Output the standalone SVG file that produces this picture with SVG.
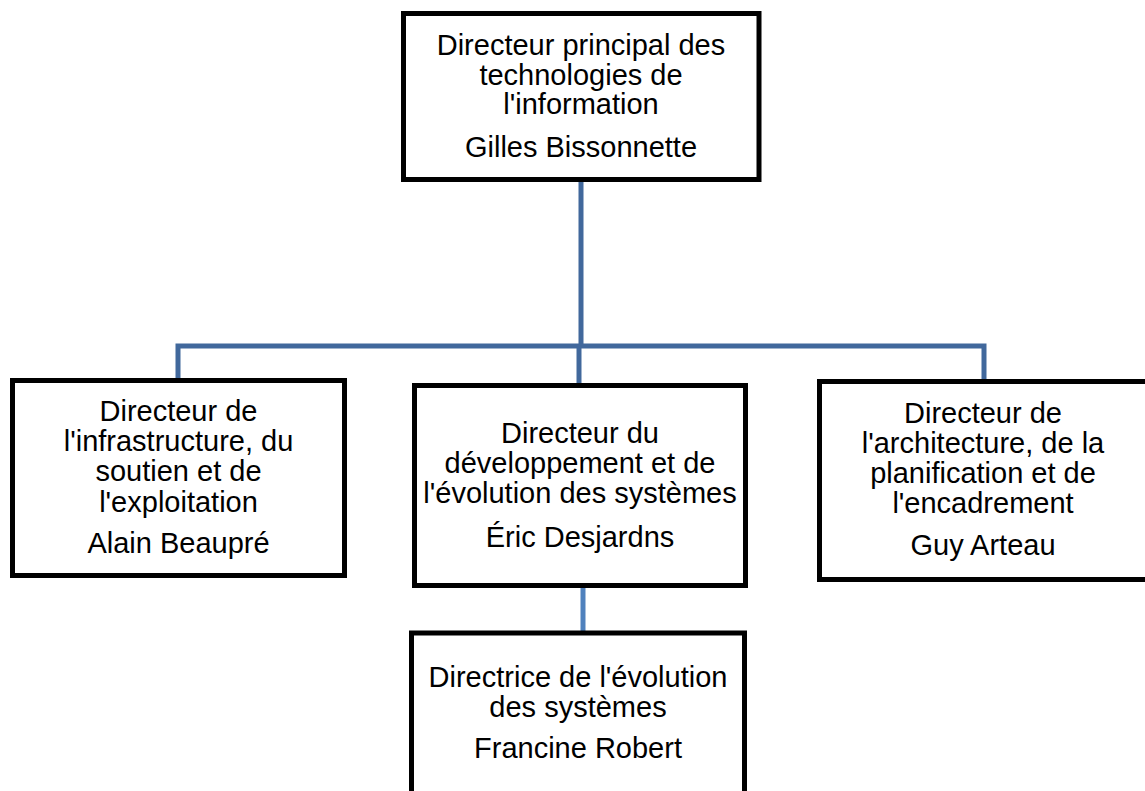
<svg xmlns="http://www.w3.org/2000/svg" width="1145" height="791" viewBox="0 0 1145 791">
<style>
.box{fill:#fff;stroke:#000;stroke-width:5}
.t{font-family:"Liberation Sans",Arial,sans-serif;font-size:29px;fill:#000;text-anchor:middle}
.c{fill:none;stroke:#41689c;stroke-width:5}
.c2{fill:none;stroke:#4f81bd;stroke-width:5}
</style>
<rect width="1145" height="791" fill="#fff"/>
<g id="connectors">
<path class="c" d="M581,181 V346"/>
<path class="c" d="M178,379 V346 H984 V380"/>
<path class="c" d="M579,346 V384"/>
<path class="c2" d="M583,588 V632"/>
</g>
<g id="n-top">
<rect class="box" x="403.5" y="13.5" width="355.5" height="166"/>
<text class="t" x="581" y="55">Directeur principal des</text>
<text class="t" x="581" y="84.5">technologies de</text>
<text class="t" x="581" y="114">l'information</text>
<text class="t" x="581" y="156.5">Gilles Bissonnette</text>
</g>
<g id="n-left">
<rect class="box" x="12.5" y="380.5" width="332" height="195"/>
<text class="t" x="178.5" y="421">Directeur de</text>
<text class="t" x="178.5" y="450.5">l'infrastructure, du</text>
<text class="t" x="178.5" y="480.5">soutien et de</text>
<text class="t" x="178.5" y="511.5">l'exploitation</text>
<text class="t" x="178.5" y="553">Alain Beaupré</text>
</g>
<g id="n-middle">
<rect class="box" x="414.5" y="385.5" width="331" height="200"/>
<text class="t" x="580" y="443">Directeur du</text>
<text class="t" x="580" y="473">développement et de</text>
<text class="t" x="580" y="503">l'évolution des systèmes</text>
<text class="t" x="580" y="546.5">Éric Desjardns</text>
</g>
<g id="n-right">
<rect class="box" x="819.5" y="381.5" width="340" height="198"/>
<text class="t" x="983" y="423">Directeur de</text>
<text class="t" x="983" y="453">l'architecture, de la</text>
<text class="t" x="983" y="483">planification et de</text>
<text class="t" x="983" y="513">l'encadrement</text>
<text class="t" x="983" y="555">Guy Arteau</text>
</g>
<g id="n-bottom">
<rect class="box" x="411.5" y="633" width="333" height="180"/>
<text class="t" x="578" y="687">Directrice de l'évolution</text>
<text class="t" x="578" y="717">des systèmes</text>
<text class="t" x="578" y="758">Francine Robert</text>
</g>
</svg>
